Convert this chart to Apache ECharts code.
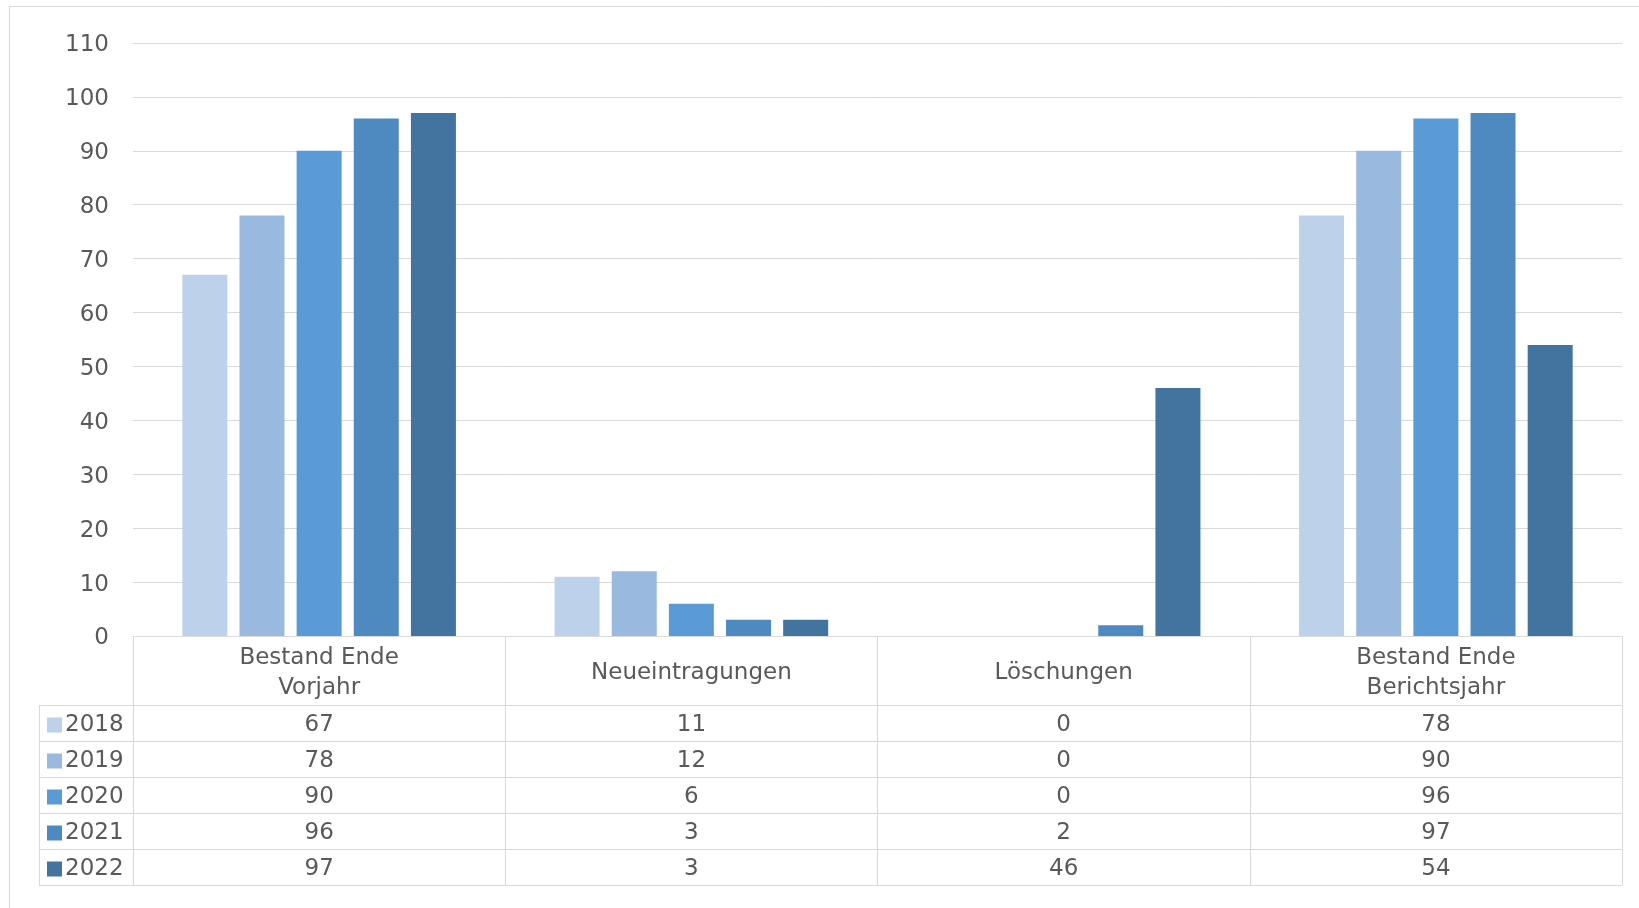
<!DOCTYPE html>
<html>
<head>
<meta charset="utf-8">
<script src="https://cdn.jsdelivr.net/npm/echarts@6/dist/echarts.min.js"></script>
<style>
html,body{margin:0;padding:0;background:#fff;}
#c{width:1639px;height:908px;}
</style>
</head>
<body>
<div id="c"></div>
<script>
// ---- data ----
const categories = ['Bestand Ende\nVorjahr', 'Neueintragungen', 'Löschungen', 'Bestand Ende\nBerichtsjahr'];
const years = ['2018', '2019', '2020', '2021', '2022'];
const v2018 = [67, 11, 0, 78];
const v2019 = [78, 12, 0, 90];
const v2020 = [90, 6, 0, 96];
const v2021 = [96, 3, 2, 97];
const v2022 = [97, 3, 46, 54];
const yTicks = [0, 10, 20, 30, 40, 50, 60, 70, 80, 90, 100, 110];

const seriesValues = [v2018, v2019, v2020, v2021, v2022];
const colors = ['#BDD1EA', '#99B9DF', '#5B9BD5', '#4E8ABF', '#43739F'];

const FONT = 'DejaVu Sans';
const TXT = '#595959';
const LINE = '#D9D9D9';
const FS = 23;

const gridLeft = 133, gridRight = 17, gridTop = 43, axisY = 636;
const headerH = 69, rowH = 36;

const chart = echarts.init(document.getElementById('c'), null, {renderer: 'canvas'});

const xAxes = [{
  type: 'category', gridIndex: 0, position: 'bottom', data: categories,
  axisLine: {show: true, lineStyle: {color: LINE, width: 1}},
  axisTick: {show: true, interval: 0, length: headerH, lineStyle: {color: LINE}},
  axisLabel: {interval: 0, margin: headerH / 2 + 3, verticalAlign: 'middle', align: 'center',
    fontFamily: FONT, fontSize: FS, color: TXT, lineHeight: 30}
}];
seriesValues.forEach((vals, i) => {
  xAxes.push({
    type: 'category', gridIndex: 0, position: 'bottom', data: categories,
    offset: headerH + rowH * i,
    axisLine: {show: true, lineStyle: {color: LINE, width: 1}},
    axisTick: {show: true, interval: 0, length: rowH, lineStyle: {color: LINE}},
    axisLabel: {interval: 0, margin: rowH / 2 + 2, verticalAlign: 'middle', align: 'center',
      fontFamily: FONT, fontSize: FS, color: TXT,
      formatter: (v, idx) => String(vals[idx])}
  });
});
xAxes.push({
  type: 'category', gridIndex: 0, position: 'bottom', data: categories,
  offset: headerH + rowH * 5,
  axisLine: {show: true, lineStyle: {color: LINE, width: 1}},
  axisTick: {show: false}, axisLabel: {show: false}
});

const legendLeft = 39;
const graphics = [
  {type: 'line', shape: {x1: 9.5, y1: 6.5, x2: 1639, y2: 6.5}, style: {stroke: LINE, lineWidth: 1}, silent: true},
  {type: 'line', shape: {x1: 9.5, y1: 6.5, x2: 9.5, y2: 908}, style: {stroke: LINE, lineWidth: 1}, silent: true},
  {type: 'line', shape: {x1: legendLeft + 0.5, y1: axisY + headerH, x2: legendLeft + 0.5, y2: axisY + headerH + rowH * 5}, style: {stroke: LINE, lineWidth: 1}, silent: true}
];
for (let i = 0; i <= 5; i++) {
  const y = axisY + headerH + rowH * i + 0.5;
  graphics.push({type: 'line', shape: {x1: legendLeft, y1: y, x2: gridLeft, y2: y}, style: {stroke: LINE, lineWidth: 1}, silent: true});
}

const option = {
  backgroundColor: '#ffffff',
  animation: false,
  color: colors,
  grid: {left: gridLeft, right: gridRight, top: gridTop, bottom: 908 - axisY, containLabel: false},
  legend: {
    orient: 'vertical', left: 42, top: axisY + headerH + rowH / 2 - 12.5 - 3,
    itemWidth: 15, itemHeight: 15, itemGap: rowH - 25,
    icon: 'rect',
    data: years,
    textStyle: {fontFamily: FONT, fontSize: FS, color: TXT, lineHeight: 22, padding: [3, 0, 0, -2]},
    selectedMode: false
  },
  xAxis: xAxes,
  yAxis: {
    type: 'value', min: yTicks[0], max: yTicks[yTicks.length - 1], interval: 10,
    axisLine: {show: false}, axisTick: {show: false},
    axisLabel: {margin: 24, fontFamily: FONT, fontSize: FS, color: TXT,
      formatter: '{a|{value}}',
      rich: {a: {fontFamily: FONT, fontSize: FS, color: TXT, padding: [5, 0, 0, 0]}}},
    splitLine: {lineStyle: {color: LINE, width: 1}}
  },
  graphic: graphics,
  series: seriesValues.map((vals, i) => ({
    name: years[i], type: 'bar', xAxisIndex: 0, data: vals,
    barWidth: 45, barGap: '27%',
    itemStyle: {color: colors[i]}
  }))
};
chart.setOption(option);
</script>
</body>
</html>
